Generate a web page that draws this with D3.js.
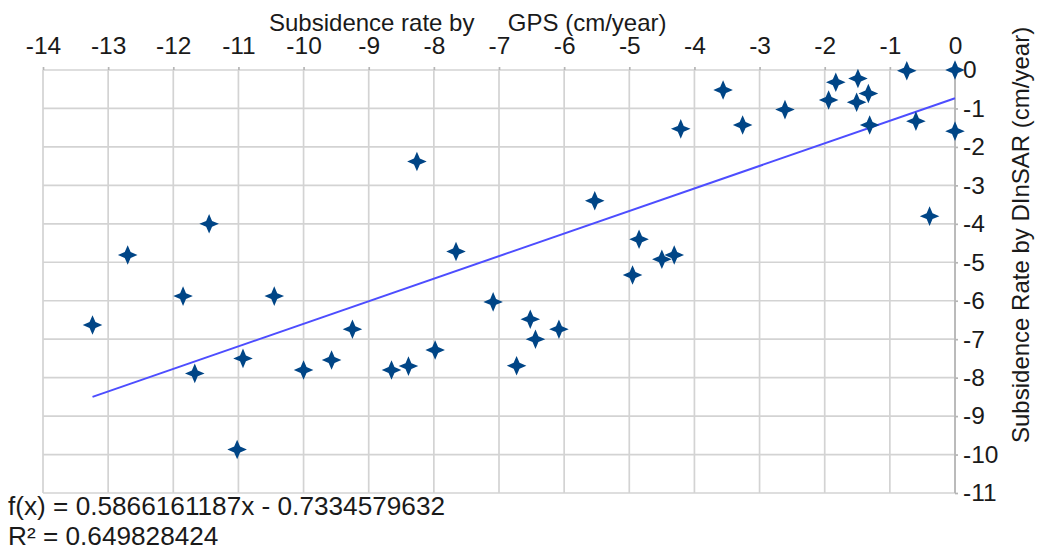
<!DOCTYPE html>
<html lang="en">
    <head>
        <meta charset="UTF-8">
        <title>Subsidence rate: GPS vs DInSAR</title>
        <script src="https://d3js.org/d3.v7.min.js"></script>
        <style>
            body {
                margin: 0;
                background-color: white;
            }
            svg {
                display: block;
                font-family: "Liberation Sans", Arial, sans-serif;
            }
            .grid line {
                stroke: #d3d3d3;
                stroke-width: 1.7px;
            }
            .axis path, .axis line {
                stroke: #b5b5b5;
                stroke-width: 1.7px;
            }
            .axis text {
                font-size: 24.5px;
                fill: #1a1a1a;
            }
            .title {
                font-size: 24px;
                fill: #1a1a1a;
                white-space: pre;
            }
            .equation {
                font-size: 26.2px;
                fill: #1a1a1a;
            }
            .trend {
                stroke: #4d4dff;
                stroke-width: 2px;
                fill: none;
            }
            .point {
                fill: #004586;
            }
        </style>
    </head>
    <body>
        <script>
            // GPS rate (x) and DInSAR rate (y), cm/year
            const gpsRate = [-13.24, -12.70, -11.85, -11.67, -11.45, -11.02, -10.93, -10.45, -10.0, -9.57,
                -9.25, -8.65, -8.39, -8.26, -7.98, -7.66, -7.09, -6.73, -6.52, -6.44,
                -6.08, -5.53, -4.95, -4.85, -4.50, -4.31, -4.21, -3.56, -3.26, -2.61,
                -1.94, -1.83, -1.51, -1.49, -1.33, -1.31, -0.74, -0.60, -0.39, 0, 0];
            const dinsarRate = [-6.63, -4.81, -5.88, -7.89, -4.0, -9.87, -7.50, -5.88, -7.80, -7.54,
                -6.74, -7.80, -7.70, -2.38, -7.28, -4.72, -6.03, -7.69, -6.48, -7.0,
                -6.74, -3.40, -5.33, -4.40, -4.92, -4.81, -1.53, -0.52, -1.43, -1.03,
                -0.78, -0.32, -0.84, -0.22, -0.61, -1.43, -0.02, -1.33, -3.80, 0, -1.59];

            const xTicks = d3.range(-14, 1);
            const yTicks = d3.range(0, -12, -1);

            // linear trend shown on the chart
            const slope = 0.5866161187;
            const intercept = -0.7334579632;
            const rSquared = 0.649828424;

            const width = 1038;
            const height = 551;
            const plot = {left: 43, right: 955, top: 70, bottom: 493};

            const svg = d3.select("body").append("svg")
                .attr("width", width)
                .attr("height", height);

            const xScale = d3.scaleLinear().domain([-14, 0]).range([plot.left, plot.right]);
            const yScale = d3.scaleLinear().domain([0, -11]).range([plot.top, plot.bottom]);

            //grid
            const grid = svg.append("g").attr("class", "grid");
            grid.selectAll(".vx")
                .data(xTicks)
                .enter()
                .append("line")
                .attr("x1", d => xScale(d)).attr("x2", d => xScale(d))
                .attr("y1", plot.top).attr("y2", plot.bottom);
            grid.selectAll(".hy")
                .data(yTicks)
                .enter()
                .append("line")
                .attr("x1", plot.left).attr("x2", plot.right)
                .attr("y1", d => yScale(d)).attr("y2", d => yScale(d));

            //axes
            const xAxis = d3.axisTop(xScale).tickValues(xTicks).tickSize(3).tickPadding(13)
                .tickFormat(d => String(d));
            const yAxis = d3.axisRight(yScale).tickValues(yTicks).tickSize(3).tickPadding(5)
                .tickFormat(d => String(d));

            svg.append("g").attr("class", "axis")
                .attr("transform", `translate(0, ${plot.top})`)
                .call(xAxis)
                .call(g => g.select(".domain").remove());

            svg.append("g").attr("class", "axis")
                .attr("transform", `translate(${plot.right}, 0)`)
                .call(yAxis)
                .call(g => g.select(".domain").attr("d", `M0,${plot.top}V${plot.bottom}`));

            //titles
            svg.append("text").attr("class", "title")
                .attr("x", 269).attr("y", 31)
                .text("Subsidence rate by     GPS (cm/year)");

            svg.append("text").attr("class", "title")
                .attr("transform", "translate(1029, 443) rotate(-90)")
                .text("Subsidence Rate by DInSAR (cm/year)");

            //trend line
            const xExtent = d3.extent(gpsRate);
            const line = d3.line()
                .x(d => xScale(d))
                .y(d => yScale(slope * d + intercept));
            svg.append("path").attr("class", "trend")
                .attr("d", line(xExtent));

            //star markers
            const star = {
                draw(context, size) {
                    const r = Math.sqrt(size);
                    const ir = r * 0.3;
                    context.moveTo(0, -r);
                    context.lineTo(ir, -ir);
                    context.lineTo(r, 0);
                    context.lineTo(ir, ir);
                    context.lineTo(0, r);
                    context.lineTo(-ir, ir);
                    context.lineTo(-r, 0);
                    context.lineTo(-ir, -ir);
                    context.closePath();
                }
            };
            const symbol = d3.symbol().type(star).size(96);

            svg.append("g")
                .selectAll("path")
                .data(gpsRate.map((g, i) => [g, dinsarRate[i]]))
                .enter()
                .append("path")
                .attr("class", "point")
                .attr("transform", d => `translate(${xScale(d[0])}, ${yScale(d[1])})`)
                .attr("d", symbol);

            //equation
            svg.append("text").attr("class", "equation")
                .attr("x", 8).attr("y", 515)
                .text(`f(x) = ${slope}x - ${Math.abs(intercept)}`);
            svg.append("text").attr("class", "equation")
                .attr("x", 8).attr("y", 545)
                .text(`R² = ${rSquared}`);
        </script>
    </body>
</html>
